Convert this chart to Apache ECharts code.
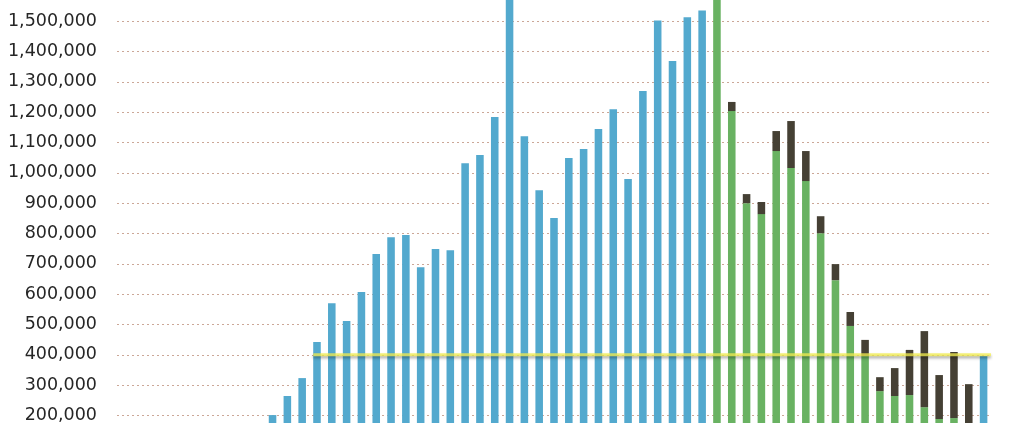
<!DOCTYPE html>
<html>
<head>
<meta charset="utf-8">
<script src="https://cdn.jsdelivr.net/npm/echarts@6/dist/echarts.min.js"></script>
<style>
html,body{margin:0;padding:0;background:#fff;width:1024px;height:423px;overflow:hidden;}
#c{width:1024px;height:485px;position:absolute;left:0;top:-9px;}
</style>
</head>
<body>
<div id="c"></div>
<script>
// 59 categories; the first ten carry no bars
var categories = [];
for (var i = 1; i <= 59; i++) categories.push(String(i));

// blue bars (categories 11-40 and 59)
var blueValues = [
  null,null,null,null,null,null,null,null,null,null,
  201000,264000,323000,442000,570000,511000,607000,732000,788000,795000,
  689000,749000,745000,1032000,1059000,1184000,1620000,1121000,943000,851000,
  1049000,1079000,1145000,1210000,980000,1270000,1503000,1369000,1513000,1536000,
  null,null,null,null,null,null,null,null,null,null,
  null,null,null,null,null,null,null,null,396000
];
// green bars (categories 41-58)
var greenValues = [
  null,null,null,null,null,null,null,null,null,null,
  null,null,null,null,null,null,null,null,null,null,
  null,null,null,null,null,null,null,null,null,null,
  null,null,null,null,null,null,null,null,null,null,
  1600000,1204000,900000,864000,1072000,1016000,973000,801000,646000,495000,
  396000,280000,264000,267000,227000,188000,191000,150000,null
];
// dark stacked tops on the green bars
var darkValues = [
  null,null,null,null,null,null,null,null,null,null,
  null,null,null,null,null,null,null,null,null,null,
  null,null,null,null,null,null,null,null,null,null,
  null,null,null,null,null,null,null,null,null,null,
  30000,30000,30000,40000,66000,155000,99000,56000,53000,46000,
  53000,46000,92000,149000,251000,145000,218000,153000,null
];
// reference level line
var levelValue = 400000;
var levelFromIndex = 13;
var levelToIndex = 58;

var chart = echarts.init(document.getElementById('c'), null, {renderer:'canvas'});
var option = {
  animation: false,
  backgroundColor: '#ffffff',
  grid: { left: 117, right: 33, top: 0, bottom: 0, containLabel: false },
  xAxis: [
    {
      type: 'category',
      data: categories,
      axisLine: { show: false },
      axisTick: { show: false },
      axisLabel: { show: false },
      splitLine: { show: false }
    },
    {
      type: 'value',
      min: 0,
      max: categories.length,
      show: false
    }
  ],
  yAxis: {
    type: 'value',
    min: 0,
    max: 1600000,
    interval: 100000,
    axisLine: { show: false },
    axisTick: { show: false },
    axisLabel: {
      margin: 20,
      color: '#262626',
      fontFamily: 'DejaVu Sans',
      fontSize: 17.5,
      formatter: function (v) {
        if (v < 200000 || v > 1500000) return '';
        return v.toLocaleString('en-US');
      }
    },
    splitLine: {
      show: true,
      lineStyle: { color: '#cba797', width: 1, type: [2, 3] }
    }
  },
  series: [
    {
      name: 'blue', type: 'bar', stack: 's', data: blueValues,
      barWidth: '51%', itemStyle: { color: '#53a9ce' }
    },
    {
      name: 'green', type: 'bar', stack: 's', data: greenValues,
      barWidth: '51%', itemStyle: { color: '#69b262' }
    },
    {
      name: 'dark', type: 'bar', stack: 's', data: darkValues,
      barWidth: '51%', itemStyle: { color: '#454034' }
    },
    {
      name: 'level', type: 'line', xAxisIndex: 1, z: 10,
      symbol: 'none',
      data: [[levelFromIndex + 0.25, levelValue], [levelToIndex + 1, levelValue]],
      lineStyle: {
        color: 'rgba(245,240,80,0.75)', width: 3,
        shadowColor: 'rgba(0,0,0,0.45)', shadowBlur: 3, shadowOffsetY: 2
      }
    }
  ]
};
chart.setOption(option);
</script>
</body>
</html>
